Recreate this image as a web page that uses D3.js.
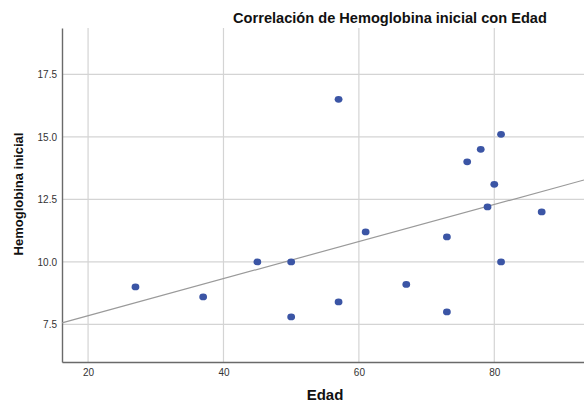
<!DOCTYPE html>
<html>
<head>
<meta charset="utf-8">
<script src="https://cdn.jsdelivr.net/npm/d3@7"></script>
<style>
  html, body { margin: 0; padding: 0; background: #fff; }
  svg { display: block; font-family: "Liberation Sans", Arial, sans-serif; }
</style>
</head>
<body>
<div id="chart"></div>
<script>
const width = 584;
const height = 402;

// Edad (x) y Hemoglobina inicial (y)
const edad = [27, 37, 45, 50, 50, 57, 57, 61, 67, 73, 73, 76, 78, 80, 81, 79, 81, 87];
const hemoglobina = [9.0, 8.6, 10.0, 10.0, 7.8, 16.5, 8.4, 11.2, 9.1, 11.0, 8.0, 14.0, 14.5, 13.1, 15.1, 12.2, 10.0, 12.0];
const xTicks = [20, 40, 60, 80];
const yTicks = [7.5, 10.0, 12.5, 15.0, 17.5];

const data = edad.map((e, i) => ({ x: e, y: hemoglobina[i] }));

const x = d3.scaleLinear().domain([16.15, 93.25]).range([62, 584]);
const y = d3.scaleLinear().domain([6, 19.35]).range([362, 28]);

const svg = d3
  .select("#chart")
  .append("svg")
  .attr("width", width)
  .attr("height", height);

// grid
svg
  .append("g")
  .selectAll("line")
  .data(xTicks)
  .join("line")
  .attr("x1", (d) => x(d))
  .attr("x2", (d) => x(d))
  .attr("y1", y.range()[1])
  .attr("y2", y.range()[0])
  .attr("stroke", "#d4d4d4")
  .attr("stroke-width", 1.2);

svg
  .append("g")
  .selectAll("line")
  .data(yTicks)
  .join("line")
  .attr("x1", x.range()[0])
  .attr("x2", x.range()[1])
  .attr("y1", (d) => y(d))
  .attr("y2", (d) => y(d))
  .attr("stroke", "#d4d4d4")
  .attr("stroke-width", 1.2);

// axes
const xAxis = svg
  .append("g")
  .attr("transform", `translate(0,${y.range()[0]})`)
  .call(d3.axisBottom(x).tickValues(xTicks).tickSize(0).tickPadding(7));

const yAxis = svg
  .append("g")
  .attr("transform", `translate(${x.range()[0]},0)`)
  .call(
    d3
      .axisLeft(y)
      .tickValues(yTicks)
      .tickSize(0)
      .tickPadding(5)
      .tickFormat(d3.format(".1f")),
  );

[xAxis, yAxis].forEach((g) => {
  g.select(".domain").attr("stroke", "#6a6a6a").attr("stroke-width", 1.4);
  g.selectAll("text")
    .attr("fill", "#333")
    .style("font-size", "10px")
    .style("font-family", '"Liberation Sans", Arial, sans-serif');
});

// regression line (least squares from the data)
const mx = d3.mean(data, (d) => d.x);
const my = d3.mean(data, (d) => d.y);
const slope =
  d3.sum(data, (d) => (d.x - mx) * (d.y - my)) /
  d3.sum(data, (d) => (d.x - mx) ** 2);
const intercept = my - slope * mx;

svg
  .append("line")
  .attr("x1", x(x.domain()[0]))
  .attr("y1", y(intercept + slope * x.domain()[0]))
  .attr("x2", x(x.domain()[1]))
  .attr("y2", y(intercept + slope * x.domain()[1]))
  .attr("stroke", "#9a9a9a")
  .attr("stroke-width", 1.2);

// points
svg
  .append("g")
  .selectAll("ellipse")
  .data(data)
  .join("ellipse")
  .attr("cx", (d) => x(d.x))
  .attr("cy", (d) => y(d.y))
  .attr("rx", 3.9)
  .attr("ry", 3.4)
  .attr("fill", "#3b55a5");

// titles
svg
  .append("text")
  .attr("x", 390)
  .attr("y", 23)
  .attr("text-anchor", "middle")
  .attr("font-weight", "bold")
  .attr("font-size", 14.6)
  .attr("fill", "#111")
  .text("Correlación de Hemoglobina inicial con Edad");

svg
  .append("text")
  .attr("x", 325)
  .attr("y", 400)
  .attr("text-anchor", "middle")
  .attr("font-weight", "bold")
  .attr("font-size", 15)
  .attr("fill", "#111")
  .text("Edad");

svg
  .append("text")
  .attr("transform", "translate(23,194) rotate(-90)")
  .attr("text-anchor", "middle")
  .attr("font-weight", "bold")
  .attr("font-size", 13)
  .attr("fill", "#111")
  .text("Hemoglobina inicial");
</script>
</body>
</html>
